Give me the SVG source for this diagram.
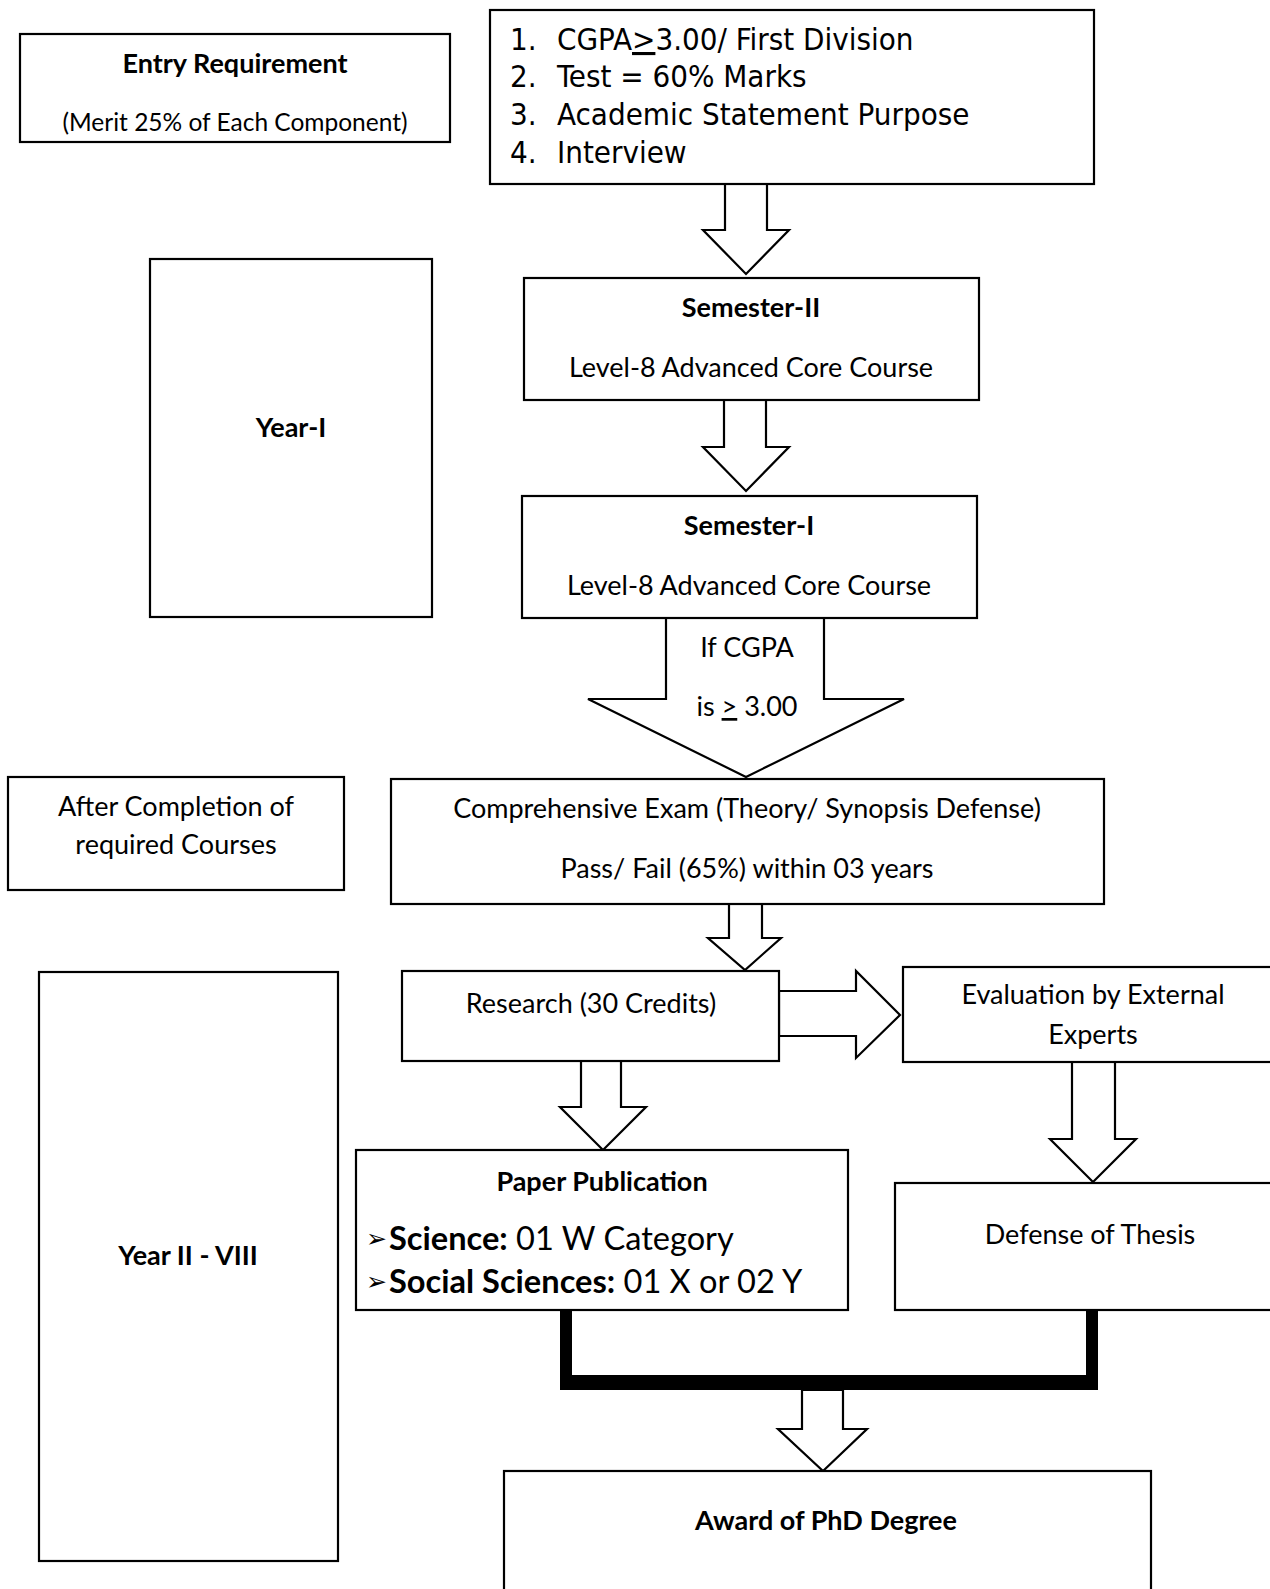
<svg xmlns="http://www.w3.org/2000/svg" width="1270" height="1589" viewBox="0 0 1270 1589">
<style>
.box{fill:#fff;stroke:#000;stroke-width:2.2}
.arr{fill:#fff;stroke:#000;stroke-width:2.2;stroke-linejoin:miter}
.t{font-family:Lato,"Open Sans","Liberation Sans",sans-serif;font-size:27px;fill:#000;text-anchor:middle}
.b{font-weight:bold}
.s{font-size:24.5px}
.c{font-family:"DejaVu Sans Condensed","DejaVu Sans",sans-serif;font-size:31px;fill:#000}
.p{font-family:Lato,"Open Sans","Liberation Sans",sans-serif;font-size:32.6px;fill:#000}
.g{font-family:"DejaVu Sans",sans-serif;font-size:25px;fill:#000}
.u{text-decoration:underline}
</style>
<rect x="0" y="0" width="1270" height="1589" fill="#fff"/>
<g id="connectors">
<polygon class="arr" points="725,184 767,184 767,230 789,230 746,274 703,230 725,230"/>
<polygon class="arr" points="724,400 766,400 766,447 789,447 746,491 703,447 724,447"/>
<polygon class="arr" points="666,618 824,618 824,699 904,699 746,777 588,699 666,699"/>
<polygon class="arr" points="729,904 762,904 762,938 781,938 745,970 708,938 729,938"/>
<polygon class="arr" points="779,991 856,991 856,971 900,1015 856,1058 856,1036 779,1036"/>
<polygon class="arr" points="581,1061 621,1061 621,1107 646,1107 603,1150 560,1107 581,1107"/>
<polygon class="arr" points="1072,1062 1115,1062 1115,1139 1136,1139 1093,1182 1050,1139 1072,1139"/>
<rect x="560" y="1310" width="12" height="79" fill="#000"/>
<rect x="1086" y="1310" width="12" height="79" fill="#000"/>
<rect x="560" y="1375" width="538" height="15" fill="#000"/>
<polygon class="arr" points="802,1390 843,1390 843,1429 867,1429 823,1471 778,1429 802,1429"/>
<text class="t" x="747" y="657">If CGPA</text>
<text class="t" x="747" y="716">is <tspan class="u">&gt;</tspan> 3.00</text>
</g>
<g id="entry">
<rect class="box" x="20" y="34" width="430" height="108"/>
<text class="t b" x="235" y="73">Entry Requirement</text>
<text class="t s" x="235" y="131">(Merit 25% of Each Component)</text>
</g>
<g id="criteria">
<rect class="box" x="490" y="10" width="604" height="174"/>
<text class="c" x="510" y="50">1.</text>
<text class="c" x="557" y="50">CGPA<tspan class="u">&gt;</tspan>3.00/ First Division</text>
<text class="c" x="510" y="87">2.</text>
<text class="c" x="557" y="87">Test = 60% Marks</text>
<text class="c" x="510" y="125">3.</text>
<text class="c" x="557" y="125">Academic Statement Purpose</text>
<text class="c" x="510" y="163">4.</text>
<text class="c" x="557" y="163">Interview</text>
</g>
<g id="year1">
<rect class="box" x="150" y="259" width="282" height="358"/>
<text class="t b" x="291" y="437">Year-I</text>
</g>
<g id="sem2">
<rect class="box" x="524" y="278" width="455" height="122"/>
<text class="t b" x="751" y="317">Semester-II</text>
<text class="t" x="751" y="377">Level-8 Advanced Core Course</text>
</g>
<g id="sem1">
<rect class="box" x="522" y="496" width="455" height="122"/>
<text class="t b" x="749" y="535">Semester-I</text>
<text class="t" x="749" y="595">Level-8 Advanced Core Course</text>
</g>
<g id="after">
<rect class="box" x="8" y="777" width="336" height="113"/>
<text class="t" x="176" y="816">After Completion of</text>
<text class="t" x="176" y="854">required Courses</text>
</g>
<g id="comprehensive">
<rect class="box" x="391" y="779" width="713" height="125"/>
<text class="t" x="747" y="818">Comprehensive Exam (Theory/ Synopsis Defense)</text>
<text class="t" x="747" y="878">Pass/ Fail (65%) within 03 years</text>
</g>
<g id="year2">
<rect class="box" x="39" y="972" width="299" height="589"/>
<text class="t b" x="188" y="1265">Year II - VIII</text>
</g>
<g id="research">
<rect class="box" x="402" y="971" width="377" height="90"/>
<text class="t" x="591" y="1013">Research (30 Credits)</text>
</g>
<g id="evaluation">
<rect class="box" x="903" y="967" width="380" height="95"/>
<text class="t" x="1093" y="1004">Evaluation by External</text>
<text class="t" x="1093" y="1044">Experts</text>
</g>
<g id="paper">
<rect class="box" x="356" y="1150" width="492" height="160"/>
<text class="t b" x="602" y="1191">Paper Publication</text>
<text class="g" x="366" y="1247">➢</text>
<text class="p" x="389" y="1250"><tspan class="b">Science:</tspan> 01 W Category</text>
<text class="g" x="366" y="1290">➢</text>
<text class="p" x="389" y="1293"><tspan class="b">Social Sciences:</tspan> 01 X or 02 Y</text>
</g>
<g id="defense">
<rect class="box" x="895" y="1183" width="390" height="127"/>
<text class="t" x="1090" y="1244">Defense of Thesis</text>
</g>
<g id="award">
<rect class="box" x="504" y="1471" width="647" height="130"/>
<text class="t b" x="826" y="1530">Award of PhD Degree</text>
</g>
</svg>
